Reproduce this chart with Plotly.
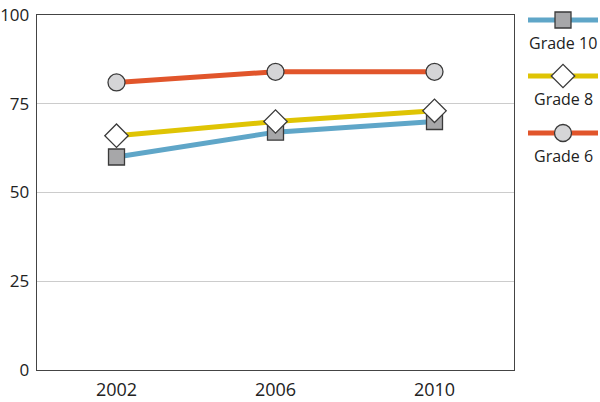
import plotly.graph_objects as go

years = ["2002", "2006", "2010"]
grade10 = [60, 67, 70]
grade8 = [66, 70, 73]
grade6 = [81, 84, 84]
series_names = ["Grade 10", "Grade 8", "Grade 6"]
y_ticks = [0, 25, 50, 75, 100]

colors = ["#5fa6c8", "#dfc404", "#e1552b"]
symbols = ["square", "diamond", "circle"]
fills = ["#a7a7a9", "#ffffff", "#d5d5d7"]
sizes = [16, 18, 17]

W, H = 600, 402
PL, PR, PT, PB = 37, 514, 15, 370

fig = go.Figure()
for name, vals, c, s, f, sz in zip(series_names, [grade10, grade8, grade6], colors, symbols, fills, sizes):
    fig.add_trace(go.Scatter(
        x=years, y=vals, mode="lines+markers", name=name,
        line=dict(color=c, width=5),
        marker=dict(symbol=s, size=sz, color=f, line=dict(color="#3a3a3a", width=1.3)),
        showlegend=False, cliponaxis=False,
    ))

# custom legend on a pixel-coordinate helper axis pair
leg_y = [20, 76, 133]
lx0, lx1, lxm = 528, 598, 563
for name, c, s, f, sz, ly in zip(series_names, colors, symbols, fills, sizes, leg_y):
    fig.add_trace(go.Scatter(
        x=[lx0, lx1], y=[ly, ly], mode="lines", line=dict(color=c, width=5),
        xaxis="x2", yaxis="y2", showlegend=False, hoverinfo="skip", cliponaxis=False))
    fig.add_trace(go.Scatter(
        x=[lxm], y=[ly], mode="markers",
        marker=dict(symbol=s, size=sz, color=f, line=dict(color="#3a3a3a", width=1.3)),
        xaxis="x2", yaxis="y2", showlegend=False, hoverinfo="skip", cliponaxis=False))
    fig.add_annotation(x=lxm, y=ly + 23, xref="x2", yref="y2", text=name,
                       showarrow=False, font=dict(size=16, color="#222222"),
                       xanchor="center", yanchor="middle")

fig.update_layout(
    width=W, height=H, template="none",
    margin=dict(l=0, r=0, t=0, b=0, pad=0),
    paper_bgcolor="white", plot_bgcolor="rgba(0,0,0,0)",
    font=dict(family="Open Sans", color="#222222"),
    xaxis=dict(domain=[PL / W, PR / W], type="category", showgrid=False,
               showline=True, linecolor="#444444", linewidth=1.3, mirror=True,
               ticks="", tickfont=dict(size=18), automargin=False, range=[-0.5, 2.5],
               ticklabeloverflow="allow", ticklabelstandoff=3),
    yaxis=dict(domain=[1 - PB / H, 1 - PT / H], range=[0, 100], tickvals=y_ticks,
               showgrid=True, gridcolor="#cccccc", gridwidth=1,
               showline=True, linecolor="#444444", linewidth=1.3, mirror=True,
               ticks="", tickfont=dict(size=17), automargin=False, zeroline=False,
               ticklabeloverflow="allow", ticklabelstandoff=3),
    xaxis2=dict(domain=[0, 1], range=[0, W], visible=False, anchor="y2"),
    yaxis2=dict(domain=[0, 1], range=[H, 0], visible=False, anchor="x2"),
)
fig.write_html(
    "out.html",
    config={"displayModeBar": False, "staticPlot": True},
    post_script="document.body.style.margin='0';document.body.style.overflow='hidden';",
)
